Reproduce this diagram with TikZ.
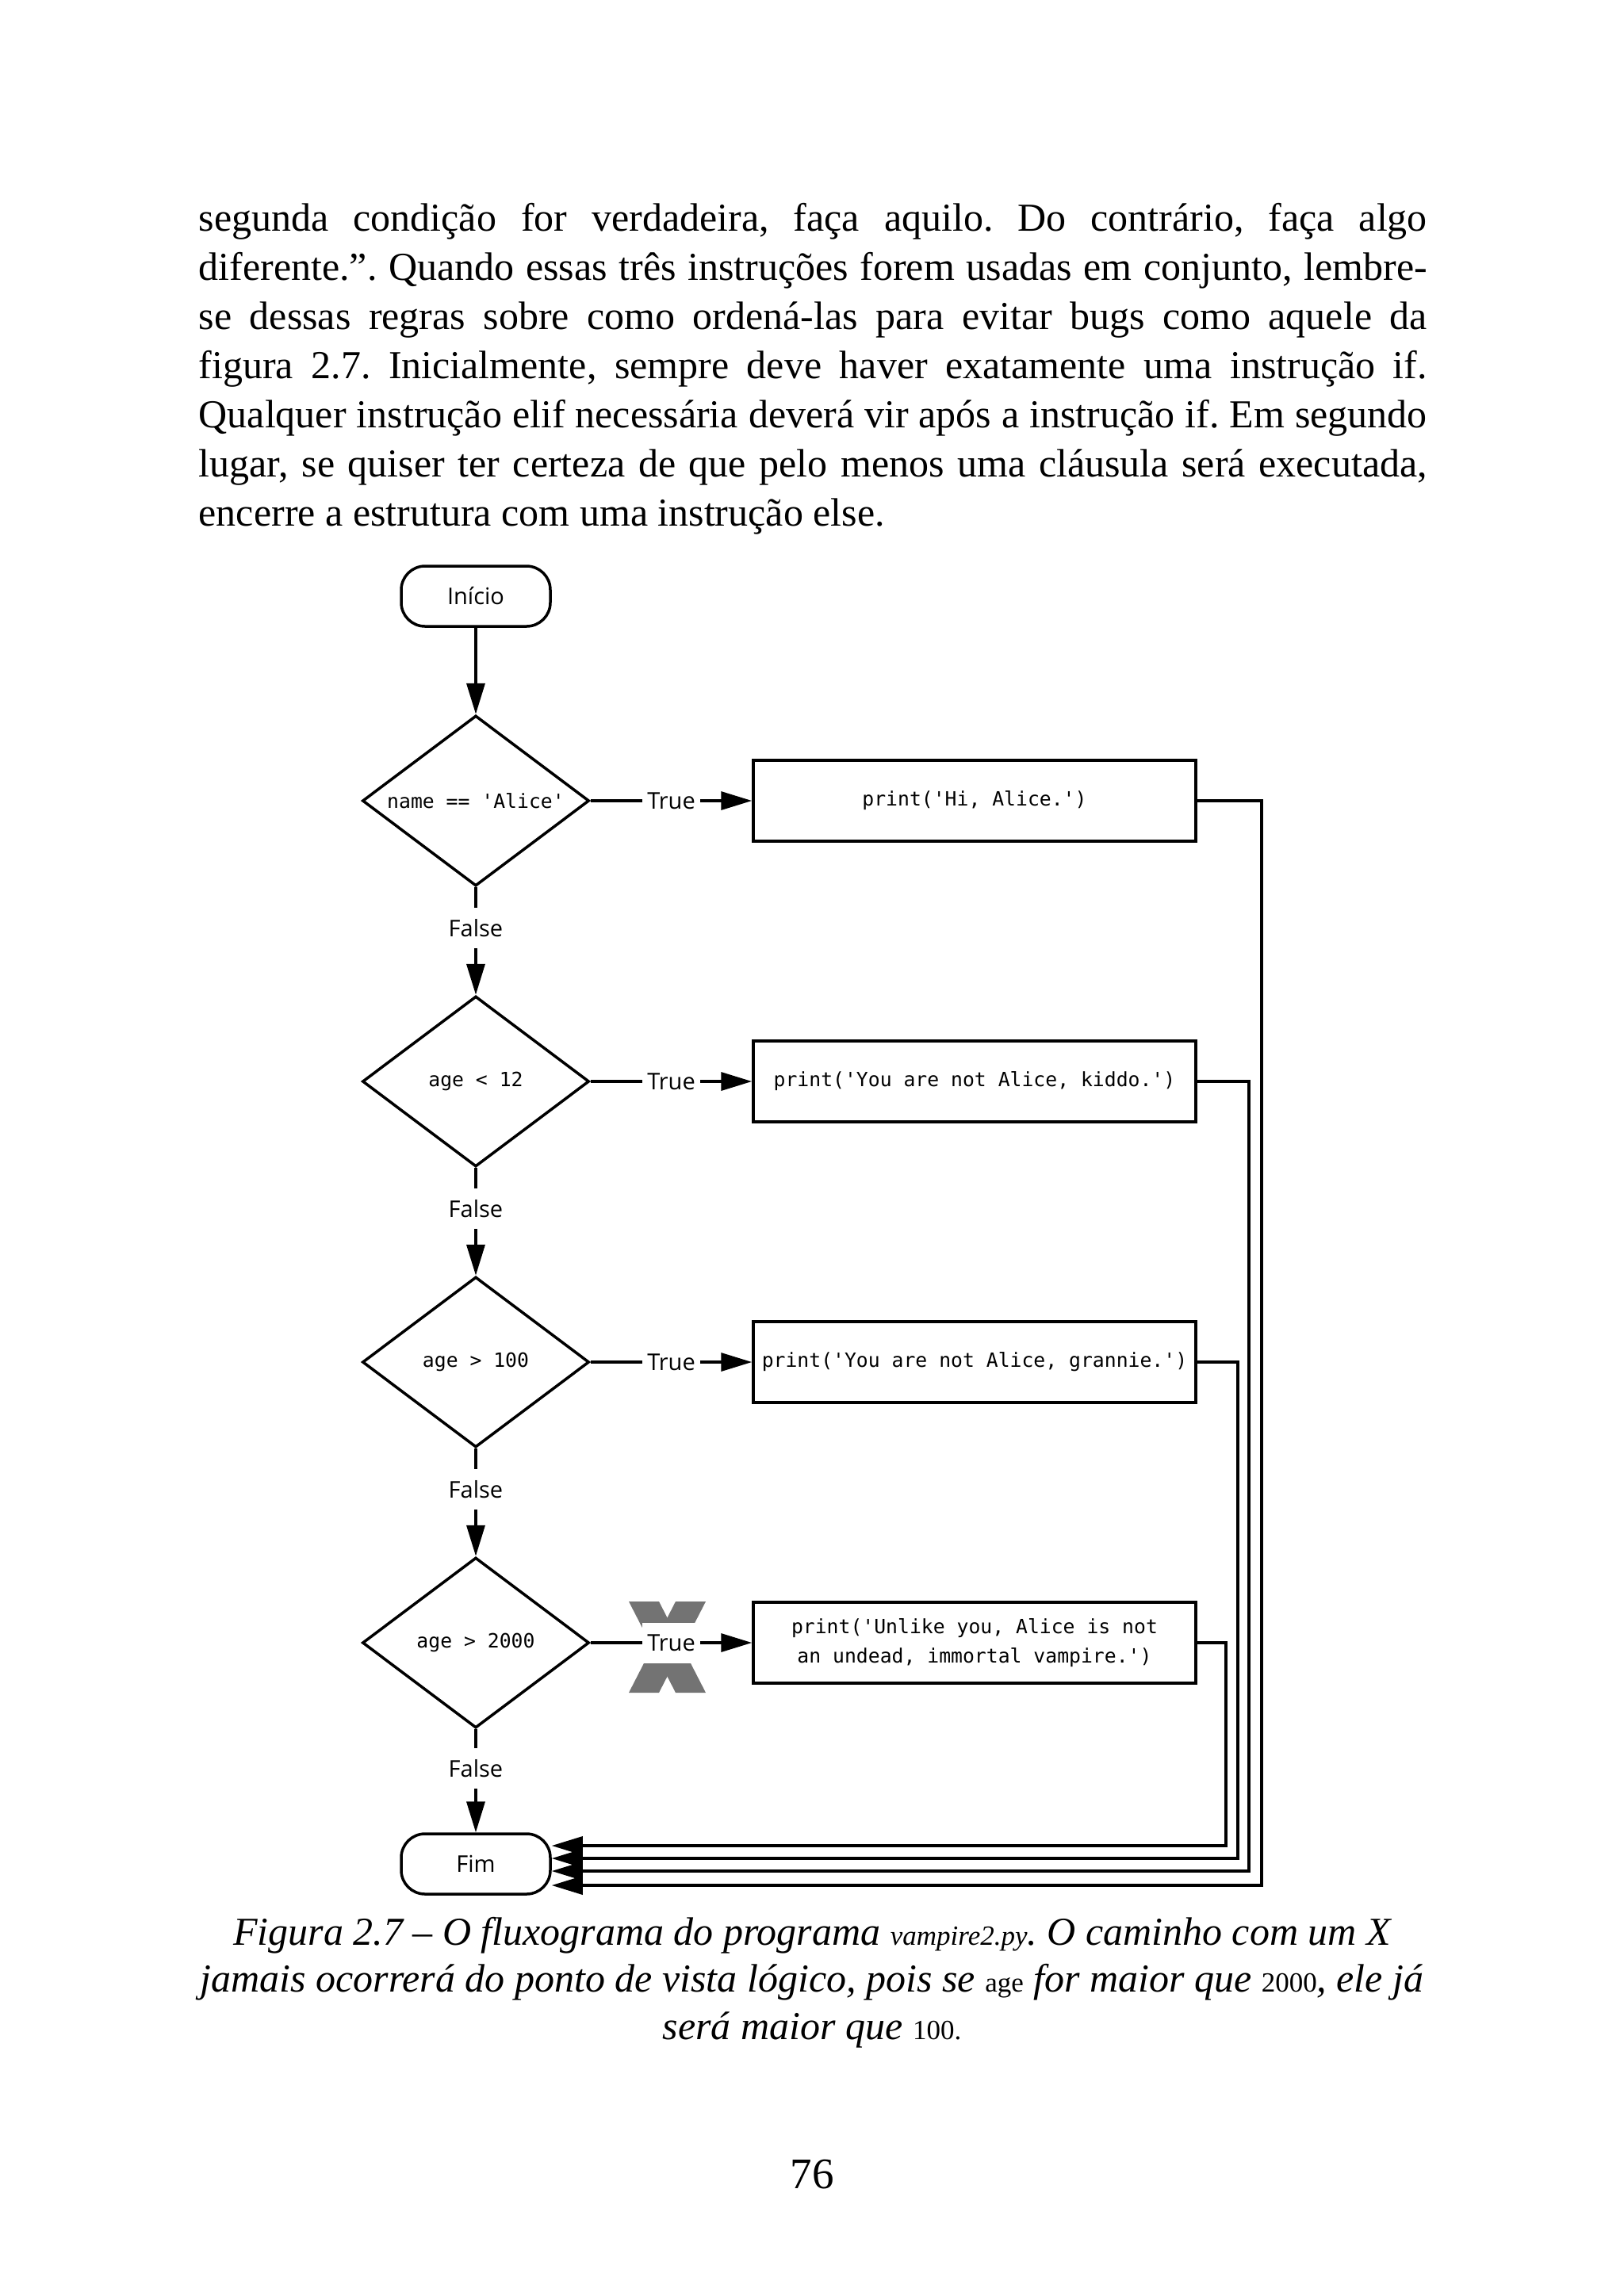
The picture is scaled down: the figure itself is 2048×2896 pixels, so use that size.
\documentclass[tikz,border=0pt]{standalone}
\usepackage{fontspec}
\setmainfont{Liberation Serif}
\setsansfont{Open Sans}
\setmonofont{DejaVu Sans Mono}
\usetikzlibrary{shapes.geometric,arrows.meta}
\frenchspacing
\begin{document}
\begin{tikzpicture}[x=0.2pt,y=-0.2pt,line width=0.7pt,
    term/.style={draw,rounded corners=6pt,minimum width=37.6pt,minimum height=15.2pt,inner sep=0pt,font=\sffamily\fontsize{5.8}{7}\selectfont},
    test/.style={draw,diamond,aspect=1.33,minimum width=57.2pt,minimum height=43pt,inner sep=0pt,font=\ttfamily\fontsize{4.95}{6}\selectfont},
    act/.style={draw,minimum width=111.6pt,minimum height=20.4pt,inner sep=0pt,align=center,font=\ttfamily\fontsize{4.95}{7.4}\selectfont},
    lbl/.style={fill=white,inner xsep=1.2pt,inner ysep=0pt,minimum height=10.2pt,font=\sffamily\fontsize{5.8}{7}\selectfont},
    arr/.style={-{Triangle[length=7.8pt,width=4.6pt]}},
    body/.style={anchor=base west,inner sep=0pt,font=\fontsize{10}{12.4}\selectfont},
    capt/.style={anchor=base,inner sep=0pt,font=\itshape\fontsize{10}{12}\selectfont}]
    \useasboundingbox (0,0) rectangle (2048,2896);
    % text above the figure
    \node[body] (l1) at (249,291.5) {\makebox[309.8pt][s]{segunda condição for verdadeira, faça aquilo. Do contrário, faça algo}};
    \node[body] (l2) at (249,353.5) {\makebox[309.8pt][s]{diferente.”. Quando essas três instruções forem usadas em conjunto, lembre-}};
    \node[body] (l3) at (249,415.5) {\makebox[309.8pt][s]{se dessas regras sobre como ordená-las para evitar bugs como aquele da}};
    \node[body] (l4) at (249,477.5) {\makebox[309.8pt][s]{figura 2.7. Inicialmente, sempre deve haver exatamente uma instrução if.}};
    \node[body] (l5) at (249,539.5) {\makebox[309.8pt][s]{Qualquer instrução elif necessária deverá vir após a instrução if. Em segundo}};
    \node[body] (l6) at (249,601.5) {\makebox[309.8pt][s]{lugar, se quiser ter certeza de que pelo menos uma cláusula será executada,}};
    \node[body] (l7) at (249,663.5) {encerre a estrutura com uma instrução else.};
    % flowchart
    \node[term] (start) at (600,752) {Início};
    \node[test] (d1) at (600,1010) {name == 'Alice'};
    \node[test] (d2) at (600,1364) {age < 12};
    \node[test] (d3) at (600,1718) {age > 100};
    \node[test] (d4) at (600,2072) {age > 2000};
    \node[term] (fim) at (600,2351) {Fim};
    \node[act] (p1) at (1229,1010) {print('Hi, Alice.')};
    \node[act] (p2) at (1229,1364) {print('You are not Alice, kiddo.')};
    \node[act] (p3) at (1229,1718) {print('You are not Alice, grannie.')};
    \node[act] (p4) at (1229,2072) {print('Unlike you, Alice is not\\an undead, immortal vampire.')};
    % the X on the impossible path
    \fill[black!55] (793,2020) -- (831,2020) -- (890,2135) -- (852,2135) -- cycle;
    \fill[black!55] (852,2020) -- (890,2020) -- (831,2135) -- (793,2135) -- cycle;
    \draw[arr] (start) -- (d1);
    \foreach \a/\b in {d1/d2,d2/d3,d3/d4,d4/fim}
        \draw[arr] (\a) -- node[lbl,pos=0.38] {False} (\b);
    \foreach \a/\b in {d1/p1,d2/p2,d3/p3,d4/p4}
        \draw[arr] (\a) -- node[lbl] {True} (\b);
    \foreach \p/\x/\y in {p1/1591/2378,p2/1575/2360,p3/1561/2344,p4/1546/2328} {
        \coordinate (r\p) at (\x,\y);
        \draw[arr] (\p.east) -| (r\p) -- (fim.east |- r\p);
    }
    % caption and page number
    \node[capt] (c1) at (1024,2453) {Figura 2.7 – O fluxograma do programa {\fontsize{7}{8}\selectfont vampire2.py}. O caminho com um X};
    \node[capt] (c2) at (1024,2512) {jamais ocorrerá do ponto de vista lógico, pois se {\upshape\fontsize{7}{8}\selectfont age} for maior que {\upshape\fontsize{7}{8}\selectfont 2000}, ele já};
    \node[capt] (c3) at (1024,2572) {será maior que {\upshape\fontsize{7}{8}\selectfont 100.}};
    \node[anchor=base,inner sep=0pt,font=\fontsize{11}{13}\selectfont] (pg) at (1024,2760) {76};
\end{tikzpicture}
\end{document}
